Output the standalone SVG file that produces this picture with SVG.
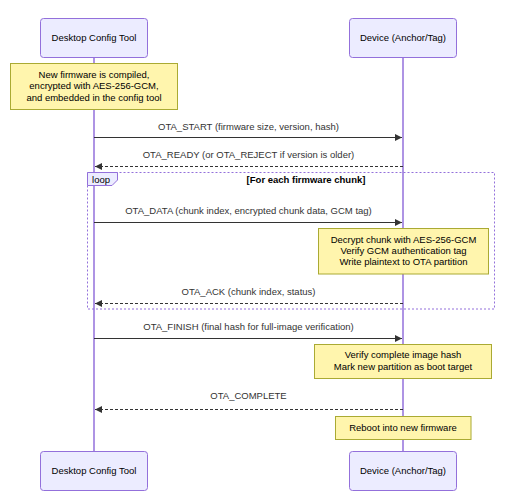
<svg xmlns="http://www.w3.org/2000/svg" width="505" height="500" viewBox="0 0 505 500">
<defs>
<style>
text{font-family:"Liberation Sans",Arial,sans-serif;font-size:9.5px;fill:#333;text-anchor:middle}
.actor{fill:#ECECFF;stroke:#9370DB;stroke-width:1}
.actor-t{fill:#000}
.life{stroke:#9370DB;stroke-width:1.5}
.note{fill:#fff5ad;stroke:#aaaa33;stroke-width:1}
.note-t{fill:#000}
.msg{stroke:#333;stroke-width:1;fill:none}
.dash{stroke-dasharray:3,2}
.loop{fill:none;stroke:#9370DB;stroke-width:1;stroke-dasharray:2,2}
.lbl{fill:#ECECFF;stroke:#9370DB;stroke-width:1}
</style>
<marker id="ah" viewBox="0 0 10 10" refX="10" refY="5" markerWidth="7" markerHeight="7" markerUnits="userSpaceOnUse" orient="auto">
<path d="M0,0 L10,5 L0,10 z" fill="#333"/>
</marker>
</defs>
<rect width="505" height="500" fill="#fff"/>
<g id="lifelines">
<line class="life" x1="94" y1="57" x2="94" y2="452"/>
<line class="life" x1="403" y1="57" x2="403" y2="452"/>
</g>
<g id="actor-desktop-top"><rect class="actor" x="40.5" y="18.5" width="107" height="39" rx="3"/><text class="actor-t" x="94" y="41">Desktop Config Tool</text></g>
<g id="actor-device-top"><rect class="actor" x="349.5" y="18.5" width="107" height="39" rx="3"/><text class="actor-t" x="403" y="41">Device (Anchor/Tag)</text></g>
<g id="note-firmware"><rect class="note" x="10.5" y="63.5" width="167" height="46"/><text class="note-t" x="94" y="77.5">New firmware is compiled,</text><text class="note-t" x="94" y="89.3">encrypted with AES-256-GCM,</text><text class="note-t" x="94" y="101">and embedded in the config tool</text></g>
<g id="loop">
<rect class="loop" x="87.5" y="172.5" width="407" height="136.5"/>
<polygon class="lbl" points="87.5,172.5 117.5,172.5 117.5,180 112,185.5 87.5,185.5"/>
<text class="note-t" x="101" y="183">loop</text>
<text class="note-t" x="306" y="183" style="font-weight:bold">[For each firmware chunk]</text>
</g>
<g id="connectors">
<line class="msg" x1="94" y1="137.5" x2="402" y2="137.5" marker-end="url(#ah)"/>
<text x="248.5" y="130">OTA_START (firmware size, version, hash)</text>
<line class="msg dash" x1="403" y1="166.5" x2="95" y2="166.5" marker-end="url(#ah)"/>
<text x="248.5" y="158">OTA_READY (or OTA_REJECT if version is older)</text>
<line class="msg" x1="94" y1="222.5" x2="402" y2="222.5" marker-end="url(#ah)"/>
<text x="248.5" y="214">OTA_DATA (chunk index, encrypted chunk data, GCM tag)</text>
<line class="msg dash" x1="403" y1="303.5" x2="95" y2="303.5" marker-end="url(#ah)"/>
<text x="248.5" y="295">OTA_ACK (chunk index, status)</text>
<line class="msg" x1="94" y1="338.5" x2="402" y2="338.5" marker-end="url(#ah)"/>
<text x="248.5" y="330">OTA_FINISH (final hash for full-image verification)</text>
<line class="msg dash" x1="403" y1="409.5" x2="95" y2="409.5" marker-end="url(#ah)"/>
<text x="248.5" y="399.3">OTA_COMPLETE</text>
</g>
<g id="note-decrypt"><rect class="note" x="318.5" y="228.5" width="170" height="45.5"/><text class="note-t" x="403.5" y="243.3">Decrypt chunk with AES-256-GCM</text><text class="note-t" x="403.5" y="254.3">Verify GCM authentication tag</text><text class="note-t" x="403.5" y="265">Write plaintext to OTA partition</text></g>
<g id="note-verify"><rect class="note" x="314.5" y="344.5" width="177" height="34"/><text class="note-t" x="403" y="358.3">Verify complete image hash</text><text class="note-t" x="403" y="370">Mark new partition as boot target</text></g>
<g id="note-reboot"><rect class="note" x="335.5" y="416.5" width="135.5" height="23"/><text class="note-t" x="403" y="430.7">Reboot into new firmware</text></g>
<g id="actor-desktop-bottom"><rect class="actor" x="40.5" y="451.5" width="107" height="39" rx="3"/><text class="actor-t" x="94" y="474">Desktop Config Tool</text></g>
<g id="actor-device-bottom"><rect class="actor" x="349.5" y="451.5" width="107" height="39" rx="3"/><text class="actor-t" x="403" y="474">Device (Anchor/Tag)</text></g>
</svg>
